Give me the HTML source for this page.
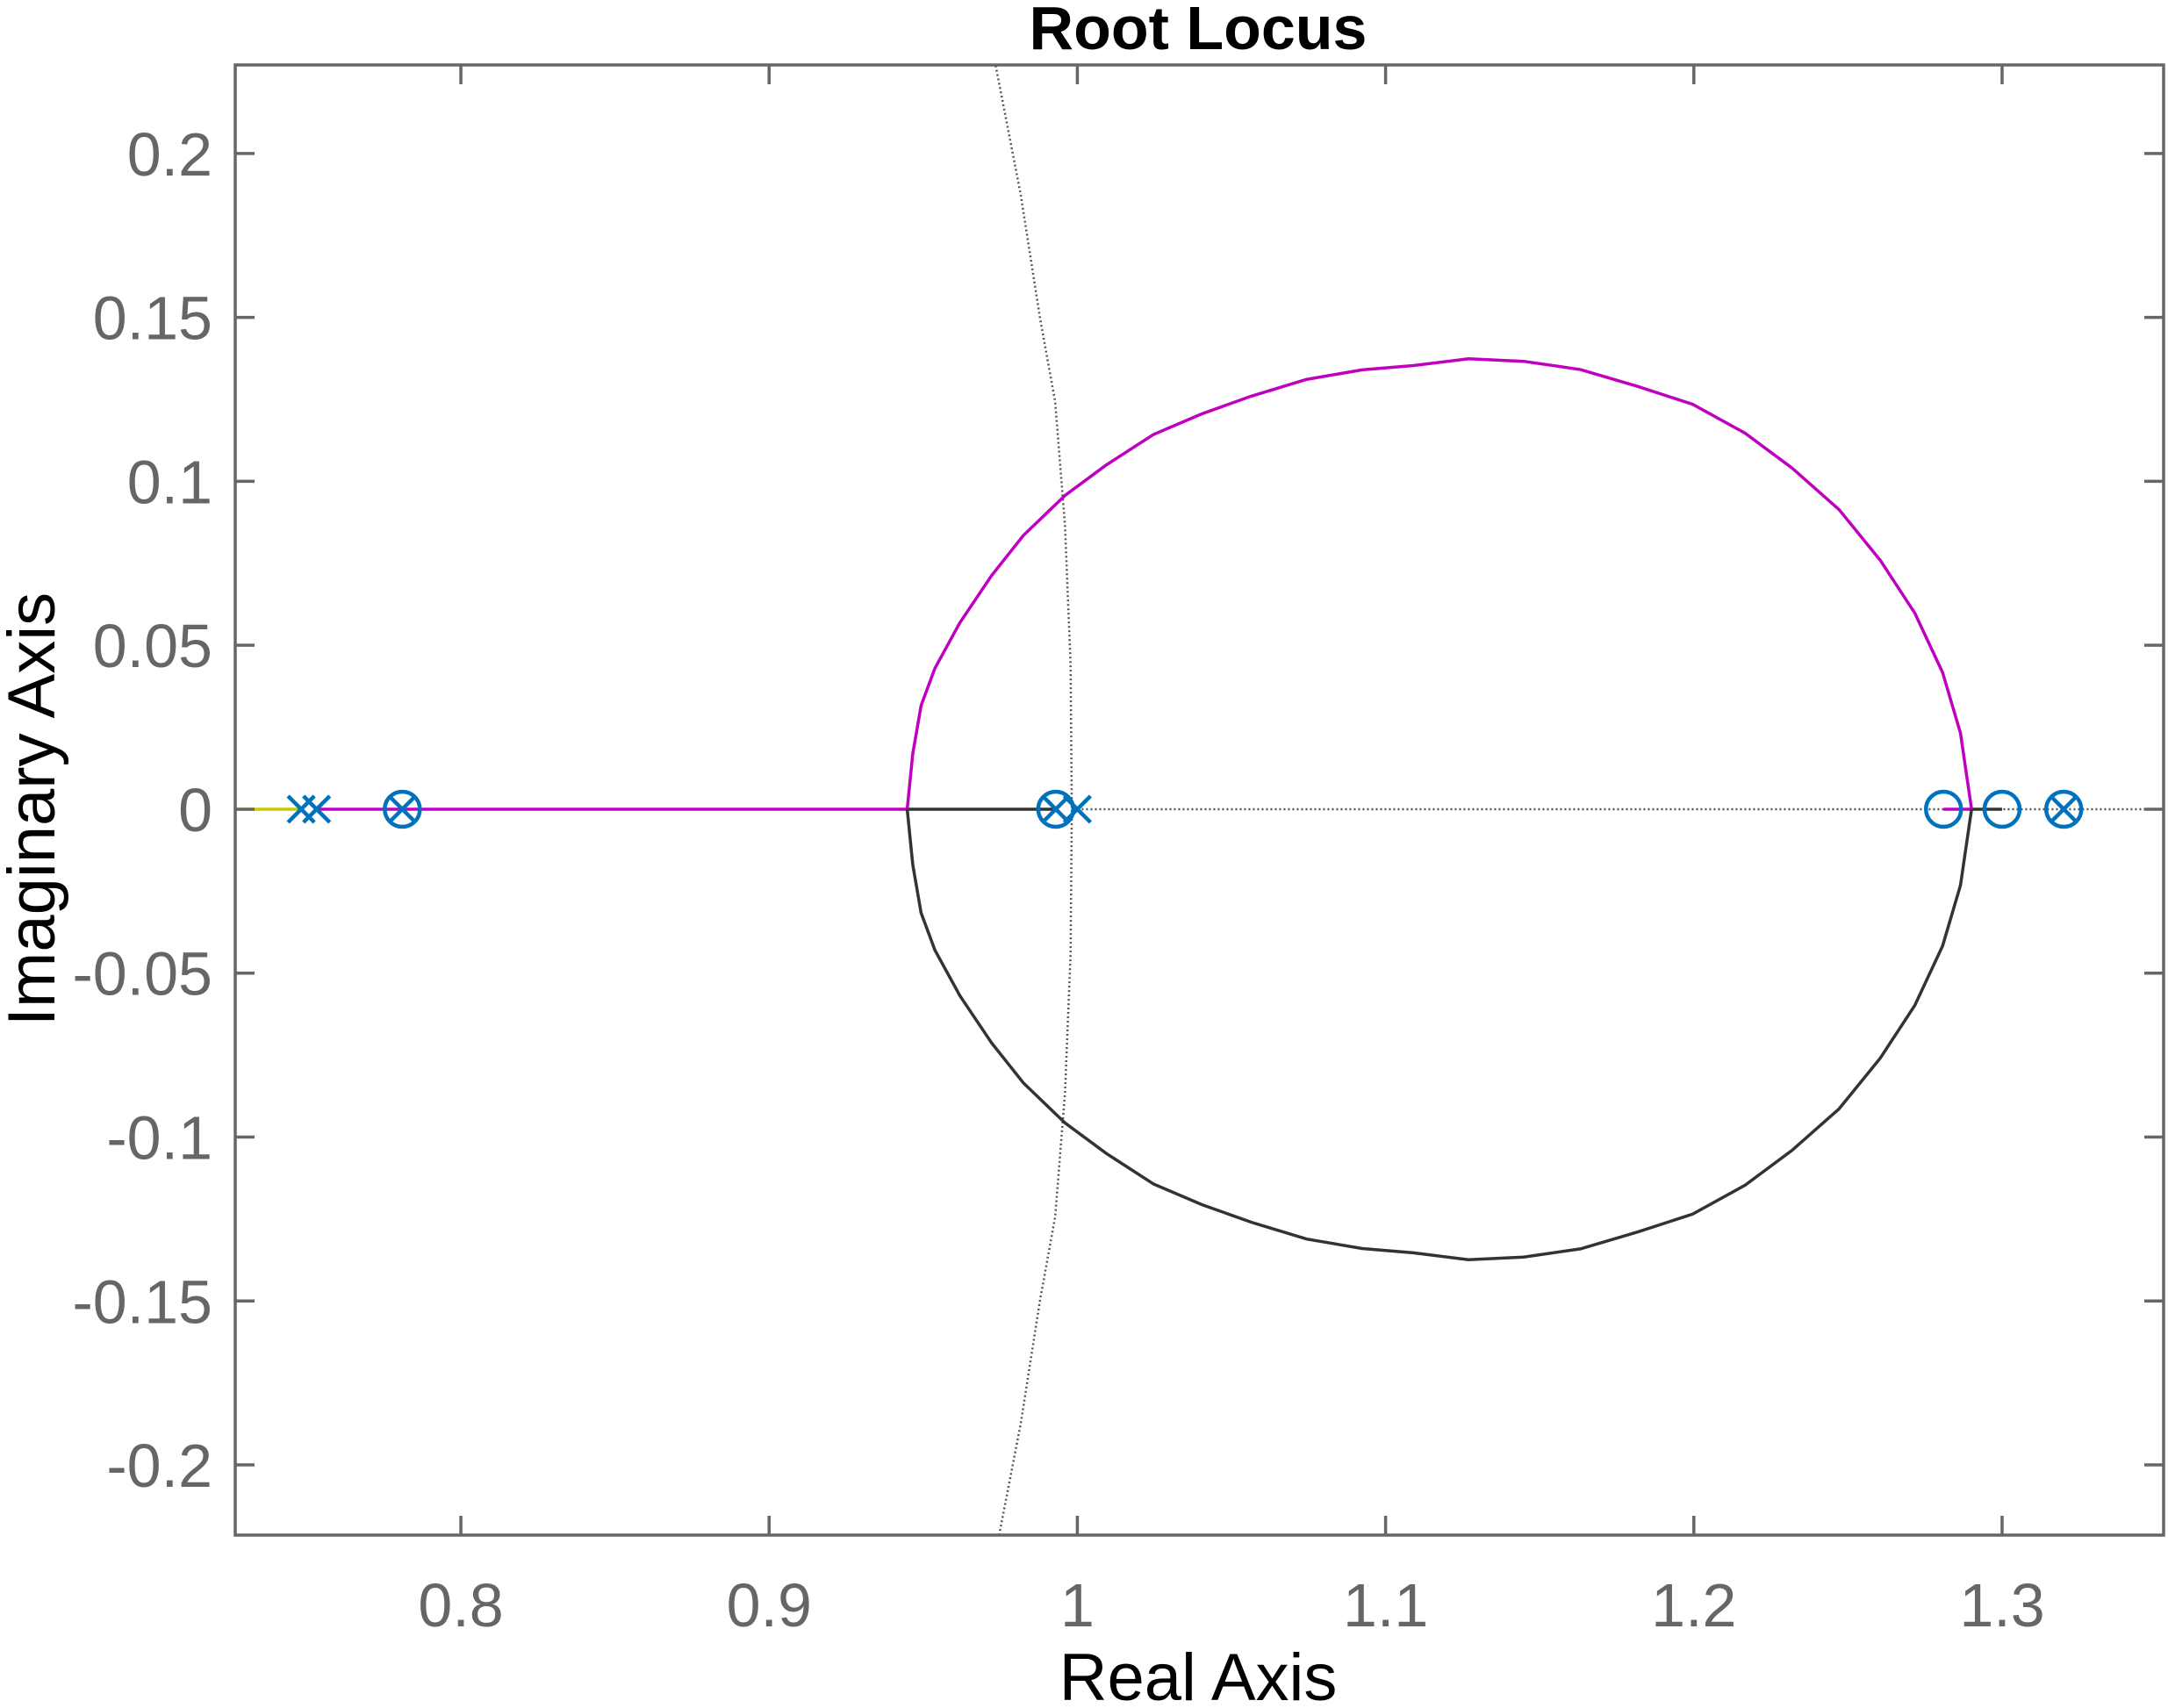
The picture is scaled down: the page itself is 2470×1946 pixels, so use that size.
<!DOCTYPE html>
<html><head><meta charset="utf-8"><style>
html,body{margin:0;padding:0;background:#fff}
svg{display:block}
text{font-family:"Liberation Sans",sans-serif}
</style></head><body>
<svg id="chart" width="2470" height="1946" viewBox="0 0 2470 1946" xmlns="http://www.w3.org/2000/svg"></svg>
<script>
const xTicks=[0.8,0.9,1,1.1,1.2,1.3];
const xTickLabels=["0.8","0.9","1","1.1","1.2","1.3"];
const yTicks=[0.2,0.15,0.1,0.05,0,-0.05,-0.1,-0.15,-0.2];
const yTickLabels=["0.2","0.15","0.1","0.05","0","-0.05","-0.1","-0.15","-0.2"];
const arcX=[0.9448,0.9466,0.9493,0.9538,0.9619,0.9722,0.9825,0.9960,1.0094,1.0247,1.0404,1.0565,1.0744,1.0924,1.1090,1.1269,1.1448,1.1632,1.1816,1.1996,1.2166,1.2318,1.2471,1.2605,1.2717,1.2807,1.2865,1.2901];
const arcY=[0,0.0169,0.0316,0.0430,0.0569,0.0713,0.0835,0.0957,0.1050,0.1143,0.1206,0.1260,0.1311,0.1340,0.1353,0.1374,0.1366,0.1341,0.1290,0.1235,0.1147,0.1041,0.0914,0.0759,0.0598,0.0417,0.0232,0];
const gridX=[0.9735,0.9816,0.9879,0.9928,0.9960,0.9978,0.9982];
const gridY=[0.2268,0.1876,0.1497,0.1243,0.0864,0.0443,0];
const poles=[0.7482,0.7532,0.7810,0.9930,1.0000,1.3200];
const zeros=[0.7810,0.9930,1.2810,1.3000,1.3200];

const L=268,R=2465,T=74,B=1749;
const X0=0.7268,X1=1.3524,Y0=-0.2214,Y1=0.2270;
const sx=v=>L+(v-X0)/(X1-X0)*(R-L);
const sy=v=>B-(v-Y0)/(Y1-Y0)*(B-T);
const svg=document.getElementById('chart');
const NS="http://www.w3.org/2000/svg";
function mk(tag,attrs,name,parent){const e=document.createElementNS(NS,tag);for(const k in attrs)e.setAttribute(k,attrs[k]);


(parent||svg).appendChild(e);return e;}
function pts(xs,ys,sign){return xs.map((x,i)=>sx(x)+','+sy(sign*ys[i])).join(' ');}

const defs=mk('defs',{},'defs');
const cp=mk('clipPath',{id:'clip'},'clip-path',defs);
mk('rect',{x:L,y:T,width:R-L,height:B-T},'clip-rect',cp);
mk('rect',{x:L,y:T,width:R-L,height:B-T,fill:'#fff',stroke:'none'},'plot-area');
const g=mk('g',{'clip-path':'url(#clip)'},'plot-content');
mk('polyline',{points:pts(gridX,gridY,1)+' '+gridX.slice().reverse().map((x,i)=>sx(x)+','+sy(-gridY[gridY.length-1-i])).join(' '),fill:'none',stroke:'#555','stroke-width':2.5,'stroke-dasharray':'2 3'},'damping-grid-curve',g);
mk('line',{x1:sx(1.0),y1:sy(0),x2:R,y2:sy(0),stroke:'#555','stroke-width':2.5,'stroke-dasharray':'2 3'},'real-axis-grid-line',g);
mk('line',{x1:L,y1:sy(0),x2:sx(poles[0]),y2:sy(0),stroke:'#c8c800','stroke-width':3.5},'branch-yellow',g);
mk('line',{x1:sx(poles[1]),y1:sy(0),x2:sx(arcX[0]),y2:sy(0),stroke:'#c000c0','stroke-width':3.5},'branch-magenta-real',g);
mk('line',{x1:sx(arcX[0]),y1:sy(0),x2:sx(0.993),y2:sy(0),stroke:'#333','stroke-width':3.5},'branch-black-real',g);
mk('line',{x1:sx(1.281),y1:sy(0),x2:sx(1.2901),y2:sy(0),stroke:'#c000c0','stroke-width':3.5},'branch-magenta-right',g);
mk('line',{x1:sx(1.2901),y1:sy(0),x2:sx(1.300),y2:sy(0),stroke:'#333','stroke-width':3.5},'branch-black-right',g);
mk('polyline',{points:pts(arcX,arcY,1),fill:'none',stroke:'#c000c0','stroke-width':3.5},'branch-magenta-upper',g);
mk('polyline',{points:pts(arcX,arcY,-1),fill:'none',stroke:'#333','stroke-width':3.5},'branch-black-lower',g);
poles.forEach((p,i)=>{const cx=sx(p),cy=sy(0),s=15;
mk('path',{d:`M${cx-s},${cy-s}L${cx+s},${cy+s}M${cx-s},${cy+s}L${cx+s},${cy-s}`,stroke:'#0072bd','stroke-width':4.5,fill:'none'},'pole-marker',g);});
zeros.forEach(z=>{mk('circle',{cx:sx(z),cy:sy(0),r:20,fill:'none',stroke:'#0072bd','stroke-width':4.5},'zero-marker',g);});
mk('rect',{x:L,y:T,width:R-L,height:B-T,fill:'none',stroke:'#666','stroke-width':3.5},'axes-box');
xTicks.forEach((t,i)=>{const x=sx(t);
mk('line',{x1:x,y1:B,x2:x,y2:B-22,stroke:'#666','stroke-width':3.5},'x-tick');
mk('line',{x1:x,y1:T,x2:x,y2:T+22,stroke:'#666','stroke-width':3.5},'x-tick-top');
const tx=mk('text',{x:x,y:1853,'font-size':70,fill:'#666','text-anchor':'middle'},'x-tick-label');tx.textContent=xTickLabels[i];});
yTicks.forEach((t,i)=>{const y=sy(t);
mk('line',{x1:L,y1:y,x2:L+22,y2:y,stroke:'#666','stroke-width':3.5},'y-tick');
mk('line',{x1:R,y1:y,x2:R-22,y2:y,stroke:'#666','stroke-width':3.5},'y-tick-right');
const ty=mk('text',{x:L-26,y:y+25,'font-size':70,fill:'#666','text-anchor':'end'},'y-tick-label');ty.textContent=yTickLabels[i];});
const tt=mk('text',{x:1365,y:56,'font-size':70,'font-weight':'bold',fill:'#000','text-anchor':'middle'},'chart-title');tt.textContent='Root Locus';
const xl=mk('text',{x:1365,y:1937,'font-size':76,fill:'#000','text-anchor':'middle'},'x-axis-title');xl.textContent='Real Axis';
const yl=mk('text',{x:0,y:0,'font-size':76,fill:'#000','text-anchor':'middle',transform:'translate(62,922) rotate(-90)'},'y-axis-title');yl.textContent='Imaginary Axis';
</script>
</body></html>
